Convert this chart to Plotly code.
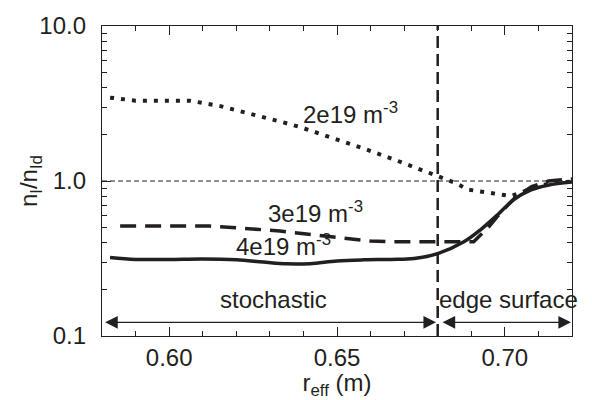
import plotly.graph_objects as go

# 2e19 m^-3 (dotted)
x_2e19 = [0.5824, 0.590, 0.600, 0.606, 0.615, 0.625, 0.633, 0.639, 0.648, 0.658, 0.668, 0.6755, 0.679, 0.6854, 0.689, 0.695, 0.7018, 0.706, 0.711, 0.716, 0.720]
y_2e19 = [3.45, 3.30, 3.30, 3.30, 3.05, 2.70, 2.42, 2.23, 1.92, 1.62, 1.35, 1.17, 1.09, 0.97, 0.88, 0.84, 0.80, 0.86, 0.94, 0.98, 0.99]

# 3e19 m^-3 (dashed)
x_3e19 = [0.5854, 0.600, 0.6122, 0.622, 0.633, 0.643, 0.653, 0.660, 0.666, 0.675, 0.684, 0.6907, 0.695, 0.6988, 0.703, 0.708, 0.713, 0.720]
y_3e19 = [0.512, 0.512, 0.512, 0.495, 0.476, 0.450, 0.423, 0.410, 0.405, 0.405, 0.405, 0.405, 0.50, 0.627, 0.78, 0.92, 1.00, 1.03]

# 4e19 m^-3 (solid)
x_4e19 = [0.5824, 0.590, 0.600, 0.610, 0.620, 0.628, 0.635, 0.642, 0.650, 0.658, 0.666, 0.673, 0.680, 0.6878, 0.693, 0.698, 0.7027, 0.7078, 0.7128, 0.720]
y_4e19 = [0.321, 0.312, 0.312, 0.314, 0.310, 0.300, 0.292, 0.293, 0.305, 0.310, 0.312, 0.316, 0.340, 0.405, 0.49, 0.61, 0.76, 0.877, 0.94, 0.985]

x_range = [0.58, 0.72]
y_range = [0.1, 10.0]
boundary_x = 0.68
y_tickvals = [0.1, 1.0, 10.0]
y_ticktext = ["0.1", "1.0", "10.0"]
x_tickvals = [0.60, 0.65, 0.70]
x_ticktext = ["0.60", "0.65", "0.70"]

FONT = "Liberation Sans, Arial, sans-serif"
BLACK = "#231f20"

fig = go.Figure()

# reference lines
fig.add_trace(go.Scatter(x=x_range, y=[1.0, 1.0], mode="lines",
                         line=dict(color=BLACK, width=1.2, dash="5px,3px"),
                         showlegend=False, hoverinfo="skip"))
fig.add_trace(go.Scatter(x=[boundary_x, boundary_x], y=y_range, mode="lines",
                         line=dict(color=BLACK, width=2.5, dash="12px,6px"),
                         showlegend=False, hoverinfo="skip"))

fig.add_trace(go.Scatter(x=x_2e19, y=y_2e19, mode="lines", name="2e19",
                         line=dict(color=BLACK, width=4, dash="4px,7px"), showlegend=False))
fig.add_trace(go.Scatter(x=x_3e19, y=y_3e19, mode="lines", name="3e19",
                         line=dict(color=BLACK, width=3.5, dash="16px,9px"), showlegend=False))
fig.add_trace(go.Scatter(x=x_4e19, y=y_4e19, mode="lines", name="4e19",
                         line=dict(color=BLACK, width=3.5, shape="spline"), showlegend=False))

def px2x(px):
    return 0.58 + (px - 102) / 470 * 0.14

ann = []
tfont = dict(family=FONT, size=24, color=BLACK)
ann.append(dict(x=px2x(301), y=0.72, xref="x", yref="paper", text="2e19 m<sup>-3</sup>",
                showarrow=False, xanchor="left", yanchor="middle", font=tfont))
ann.append(dict(x=px2x(266), y=0.40, xref="x", yref="paper", text="3e19 m<sup>-3</sup>",
                showarrow=False, xanchor="left", yanchor="middle", font=tfont))
ann.append(dict(x=px2x(234), y=0.295, xref="x", yref="paper", text="4e19 m<sup>-3</sup>",
                showarrow=False, xanchor="left", yanchor="middle", font=tfont))
ann.append(dict(x=px2x(273), y=0.117, xref="x", yref="paper", text="stochastic",
                showarrow=False, xanchor="center", yanchor="middle", font=tfont))
ann.append(dict(x=px2x(437), y=0.117, xref="x", yref="paper", text="edge surface",
                showarrow=False, xanchor="left", yanchor="middle", font=tfont))
# y-axis title
ann.append(dict(x=-0.153, y=0.5, xref="paper", yref="paper", text="n<sub>I</sub>/n<sub>Id</sub>",
                textangle=-90, showarrow=False, xanchor="center", yanchor="middle", font=tfont))

# double arrows
arrow_y = 0.044
for x0, x1 in [(0.5805, 0.6795), (0.6810, 0.7197)]:
    ann.append(dict(x=x1, y=arrow_y, ax=x0, ay=0, xref="x", yref="paper",
                    axref="x", ayref="pixel", text="",
                    showarrow=True, arrowhead=2, startarrowhead=2, arrowside="end+start",
                    arrowsize=1.8, startarrowsize=1.8, arrowwidth=1.4, arrowcolor=BLACK))

axis_common = dict(ticks="inside", ticklen=9, tickwidth=1.4, tickcolor=BLACK,
                   showline=True, linecolor=BLACK, linewidth=1.4, mirror="allticks",
                   showgrid=False, zeroline=False)

fig.update_layout(
    width=592, height=400,
    margin=dict(l=102, r=20, t=23, b=61),
    paper_bgcolor="white", plot_bgcolor="white",
    font=dict(family=FONT, size=24, color=BLACK),
    annotations=ann,
)
fig.update_xaxes(range=x_range, tickmode="array", tickvals=x_tickvals, ticktext=x_ticktext,
                 minor=dict(ticks="inside", ticklen=5, dtick=0.01, tick0=0.58,
                            tickcolor=BLACK, tickwidth=1.3, showgrid=False),
                 tickfont=dict(size=24),
                 title=dict(text="r<sub>eff</sub> (m)", font=dict(size=24), standoff=0),
                 **axis_common)
fig.update_yaxes(type="log", range=[-1, 1], tickmode="array", tickvals=y_tickvals, ticktext=y_ticktext,
                 minor=dict(ticks="inside", ticklen=5, dtick="D1",
                            tickcolor=BLACK, tickwidth=1.3, showgrid=False),
                 tickfont=dict(size=24), ticklabelstandoff=10,
                 **axis_common)

fig.write_html("out.html")
